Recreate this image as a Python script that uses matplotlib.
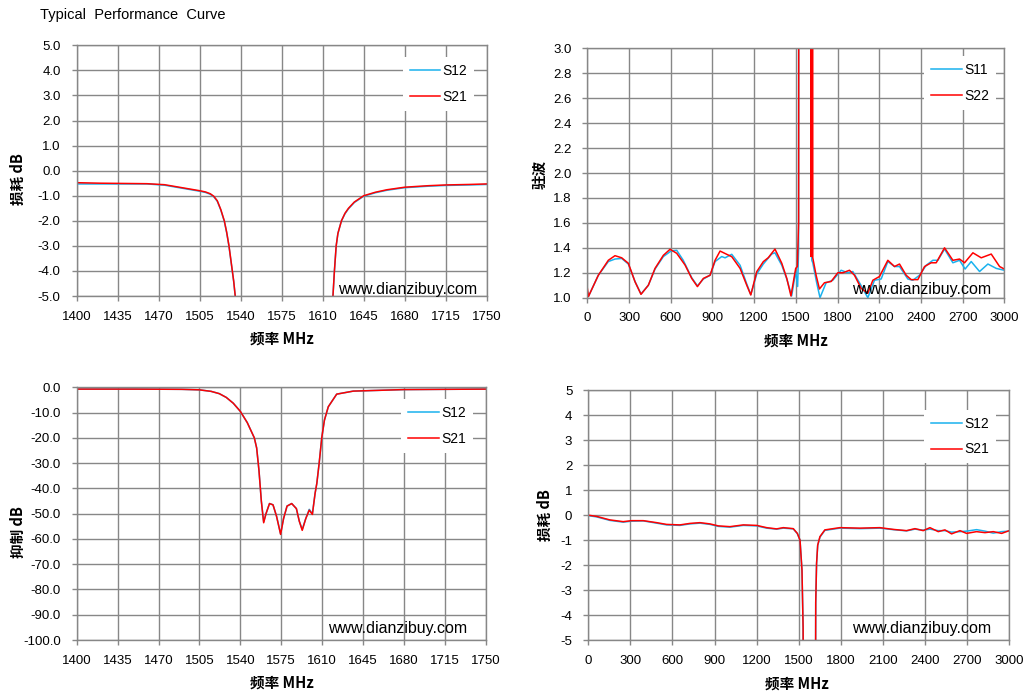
import numpy as np
import matplotlib
matplotlib.use("Agg")
import matplotlib.pyplot as plt
from matplotlib.ticker import FormatStrFormatter

plt.rcParams["font.family"] = ["Liberation Sans", "DejaVu Sans"]

BLUE = "#1AB2EE"
RED = "#FF0000"
GRID = "#878787"
CJK = ["Noto Sans CJK SC", "DejaVu Sans"]

# ---- top-left : pass band loss, 1400-1750 MHz ----
tl_freq = [1400, 1420, 1440, 1460, 1475, 1490, 1500, 1505, 1510, 1514, 1517, 1520,
           1523, 1526, 1528, 1530, 1532, 1534, 1536, 1540, 1615, 1618, 1619, 1620,
           1621.5, 1623, 1626, 1629, 1632, 1637, 1645, 1655, 1665, 1680, 1700, 1715,
           1735, 1750]
tl_s21 = [-0.48, -0.50, -0.51, -0.52, -0.56, -0.68, -0.76, -0.80, -0.85, -0.92, -1.02,
          -1.20, -1.55, -2.00, -2.45, -3.00, -3.70, -4.40, -5.30, -8.0, -8.0, -5.6,
          -4.8, -4.0, -3.0, -2.5, -2.0, -1.70, -1.50, -1.25, -1.00, -0.86, -0.76,
          -0.66, -0.60, -0.57, -0.55, -0.53]
tl_s12 = [-0.53, -0.53, -0.53, -0.53, -0.58, -0.70, -0.78, -0.82, -0.87, -0.94, -1.04,
          -1.22, -1.57, -2.02, -2.47, -3.02, -3.72, -4.42, -5.32, -8.0, -8.0, -5.6,
          -4.8, -4.0, -3.0, -2.5, -2.0, -1.72, -1.52, -1.27, -1.02, -0.88, -0.78,
          -0.68, -0.62, -0.59, -0.57, -0.55]

# ---- bottom-left : rejection, 1400-1750 MHz ----
bl_freq = [1400, 1450, 1490, 1505, 1515, 1522, 1528, 1534, 1540, 1546, 1552, 1554,
           1556, 1558, 1560, 1562, 1565, 1568, 1571, 1574.5, 1577, 1580, 1584, 1588,
           1590.5, 1593, 1596, 1599, 1601.7, 1604, 1605.5, 1607.5, 1609.7, 1612,
           1615.3, 1622.5, 1636.7, 1680, 1750]
bl_s21 = [-0.7, -0.7, -0.8, -1.0, -1.6, -2.5, -4.0, -6.3, -9.5, -14.0, -20.0, -24.0,
          -33.0, -45.0, -53.6, -50.0, -46.0, -46.5, -51.0, -58.2, -52.0, -47.0, -46.0,
          -48.0, -53.0, -56.6, -52.0, -48.6, -50.3, -42.0, -38.0, -30.0, -20.0, -13.0,
          -7.7, -2.7, -1.5, -0.9, -0.7]
bl_s12 = [-0.7, -0.7, -0.8, -1.0, -1.6, -2.5, -4.0, -6.3, -9.5, -14.0, -20.0, -24.0,
          -33.0, -45.0, -53.2, -50.0, -46.0, -46.5, -51.0, -58.0, -52.0, -47.0, -46.0,
          -48.0, -53.0, -56.2, -52.0, -48.3, -50.0, -42.0, -38.0, -30.0, -20.0, -13.0,
          -7.7, -2.7, -1.5, -0.9, -0.7]

# ---- top-right : VSWR, 0-3000 MHz ----
tr_s22_freq = [0, 8, 79, 151, 199, 247, 295, 343, 386, 439, 487, 547, 595, 643, 703,
               751, 792, 835, 883, 919, 955, 1003, 1039, 1099, 1147, 1176, 1219, 1266,
               1302, 1350, 1399, 1435, 1465, 1499, 1511, 1520, 1530, 1605, 1609, 1612,
               1618, 1622, 1646, 1670, 1706, 1754, 1802, 1838, 1886, 1922, 1970, 2018,
               2054, 2102, 2162, 2210, 2246, 2294, 2330, 2378, 2426, 2474, 2510, 2570,
               2630, 2678, 2714, 2774, 2834, 2906, 2966, 3000]
tr_s22 = [1.075, 1.01, 1.18, 1.30, 1.337, 1.32, 1.276, 1.128, 1.027, 1.10, 1.235, 1.34,
          1.388, 1.356, 1.262, 1.155, 1.089, 1.155, 1.18, 1.30, 1.374, 1.348, 1.329,
          1.235, 1.10, 1.022, 1.209, 1.289, 1.321, 1.39, 1.276, 1.155, 1.014, 1.235,
          1.25, 1.6, 20.0, 20.0, 1.33, 20.0, 20.0, 1.32, 1.18, 1.07, 1.12, 1.13, 1.20,
          1.20, 1.22, 1.18, 1.075, 1.035, 1.14, 1.17, 1.30, 1.25, 1.27, 1.18, 1.145,
          1.145, 1.25, 1.28, 1.28, 1.40, 1.30, 1.31, 1.28, 1.36, 1.32, 1.35, 1.25, 1.23]
tr_s11_freq = [0, 8, 79, 151, 199, 247, 295, 343, 386, 439, 487, 547, 603, 643, 690,
               751, 792, 835, 883, 919, 967, 991, 1039, 1099, 1147, 1176, 1219, 1266,
               1326, 1350, 1399, 1435, 1470, 1499, 1513, 1520, 1527, 1608, 1615, 1622,
               1650, 1674, 1718, 1766, 1826, 1874, 1910, 1958, 2018, 2066, 2114, 2162,
               2210, 2246, 2306, 2342, 2390, 2438, 2486, 2522, 2570, 2630, 2678, 2718,
               2762, 2822, 2882, 2942, 3000]
tr_s11 = [1.05, 1.01, 1.18, 1.29, 1.31, 1.315, 1.27, 1.13, 1.03, 1.10, 1.23, 1.33, 1.375,
          1.38, 1.30, 1.16, 1.095, 1.15, 1.18, 1.29, 1.33, 1.32, 1.348, 1.26, 1.11, 1.025,
          1.19, 1.27, 1.35, 1.36, 1.26, 1.15, 1.014, 1.21, 1.09, 1.4, 20.0, 20.0, 1.30,
          1.28, 1.12, 1.0, 1.12, 1.14, 1.22, 1.20, 1.21, 1.12, 1.0, 1.14, 1.15, 1.29,
          1.25, 1.25, 1.15, 1.14, 1.18, 1.26, 1.30, 1.30, 1.39, 1.28, 1.30, 1.23, 1.29,
          1.21, 1.27, 1.235, 1.22]

# ---- bottom-right : wide band loss, 0-3000 MHz ----
br_freq = [0, 60, 154, 249, 309, 392, 487, 558, 653, 725, 796, 867, 927, 1010, 1105,
           1200, 1271, 1342, 1390, 1461, 1490, 1509, 1523, 1531, 1535, 1617, 1621,
           1627, 1635, 1651, 1686, 1793, 1936, 2078, 2173, 2268, 2328, 2387, 2435,
           2494, 2542, 2589, 2649, 2696, 2767, 2827, 2886, 2946, 3000]
br_s21 = [0.0, -0.05, -0.19, -0.26, -0.22, -0.22, -0.30, -0.37, -0.39, -0.33, -0.30,
          -0.35, -0.43, -0.46, -0.39, -0.41, -0.50, -0.55, -0.50, -0.54, -0.73, -1.0,
          -2.2, -4.5, -12.0, -12.0, -3.5, -1.93, -1.2, -0.86, -0.59, -0.50, -0.52,
          -0.50, -0.57, -0.62, -0.54, -0.62, -0.50, -0.66, -0.59, -0.75, -0.62, -0.73,
          -0.66, -0.70, -0.66, -0.73, -0.62]
br_s12 = [-0.02, -0.07, -0.21, -0.28, -0.24, -0.23, -0.32, -0.39, -0.41, -0.35, -0.32,
          -0.37, -0.45, -0.48, -0.41, -0.43, -0.52, -0.56, -0.52, -0.55, -0.74, -1.0,
          -2.2, -4.5, -12.0, -12.0, -3.5, -1.95, -1.22, -0.88, -0.61, -0.52, -0.54,
          -0.52, -0.58, -0.63, -0.56, -0.60, -0.56, -0.62, -0.62, -0.68, -0.66, -0.64,
          -0.58, -0.64, -0.72, -0.66, -0.64]

WATERMARK = "www.dianzibuy.com"

fig = plt.figure(figsize=(10.27, 6.99), dpi=100)

ax_tl = fig.add_axes([0.0747, 0.5765, 0.3992, 0.3587])
ax_tr = fig.add_axes([0.5719, 0.5741, 0.4060, 0.3568])
ax_bl = fig.add_axes([0.0747, 0.0844, 0.3982, 0.3615])
ax_br = fig.add_axes([0.5728, 0.0844, 0.4099, 0.3572])


def style(ax, xlim, xticks, ylim, yticks, yfmt):
    ax.set_xlim(*xlim)
    ax.set_ylim(*ylim)
    ax.set_xticks(xticks)
    ax.set_yticks(yticks)
    ax.yaxis.set_major_formatter(FormatStrFormatter(yfmt))
    ax.grid(True, color=GRID, lw=1.0)
    ax.set_axisbelow(True)
    for sp in ax.spines.values():
        sp.set_color(GRID)
        sp.set_linewidth(1.0)
    ax.tick_params(direction="out", length=3.5, width=1.0, color=GRID,
                   labelsize=9.5, labelcolor="black")
    ax.tick_params(axis="y", pad=8)
    ax.tick_params(axis="x", pad=7)


def add_legend(ax, labels, cx, cy):
    return ax.legend(labels, loc="center", bbox_to_anchor=(cx, cy), fontsize=10,
                     frameon=True, fancybox=False, framealpha=1.0, facecolor="white",
                     edgecolor="none", handlelength=2.2, handletextpad=0.15,
                     labelspacing=0.85, borderpad=0.5)


def watermark(ax, x, y):
    ax.text(x, y, WATERMARK, transform=ax.transAxes, ha="left", va="baseline",
            fontsize=11.5, color="black", zorder=5)


# top-left
ax_tl.plot(tl_freq, tl_s12, color=BLUE, lw=1.1)
ax_tl.plot(tl_freq, tl_s21, color=RED, lw=1.1)
style(ax_tl, (1400, 1750), np.arange(1400, 1751, 35), (-5, 5), np.arange(-5, 5.1, 1), "%.1f")
add_legend(ax_tl, ["S12", "S21"], 0.882, 0.846)
watermark(ax_tl, 0.637, 0.008)

# top-right
ax_tr.plot(tr_s11_freq, tr_s11, color=BLUE, lw=1.1)
ax_tr.plot(tr_s22_freq, tr_s22, color=RED, lw=1.1)
style(ax_tr, (0, 3000), np.arange(0, 3001, 300), (1.0, 3.0), np.arange(1.0, 3.01, 0.2), "%.1f")
add_legend(ax_tr, ["S11", "S22"], 0.894, 0.861)
watermark(ax_tr, 0.634, 0.014)

# bottom-left
ax_bl.plot(bl_freq, bl_s12, color=BLUE, lw=1.1)
ax_bl.plot(bl_freq, bl_s21, color=RED, lw=1.1)
style(ax_bl, (1400, 1750), np.arange(1400, 1751, 35), (-100, 0), np.arange(-100, 0.1, 10), "%.1f")
add_legend(ax_bl, ["S12", "S21"], 0.881, 0.846)
watermark(ax_bl, 0.614, 0.029)

# bottom-right
ax_br.plot(br_freq, br_s12, color=BLUE, lw=1.1)
ax_br.plot(br_freq, br_s21, color=RED, lw=1.1)
style(ax_br, (0, 3000), np.arange(0, 3001, 300), (-5, 5), np.arange(-5, 5.1, 1), "%d")
add_legend(ax_br, ["S12", "S21"], 0.883, 0.815)
watermark(ax_br, 0.626, 0.027)

# title and axis labels
fig.text(40 / 1027, 1 - 19 / 699, "Typical  Performance  Curve", fontsize=10.5,
         ha="left", va="baseline")

lab = dict(fontsize=10.5, fontweight="bold", family=CJK, ha="center", va="center")
for x, y in [(0.2743, 0.515), (0.775, 0.5126), (0.2743, 0.0229), (0.776, 0.0215)]:
    fig.text(x, y, "频率 MHz", **lab)
fig.text(0.017, 0.744, "损耗 dB", rotation=90, **lab)
fig.text(0.5258, 0.751, "驻波", rotation=90, **lab)
fig.text(0.0178, 0.2393, "抑制 dB", rotation=90, **lab)
fig.text(0.5307, 0.2632, "损耗 dB", rotation=90, **lab)

fig.savefig("out.png", dpi=100)
